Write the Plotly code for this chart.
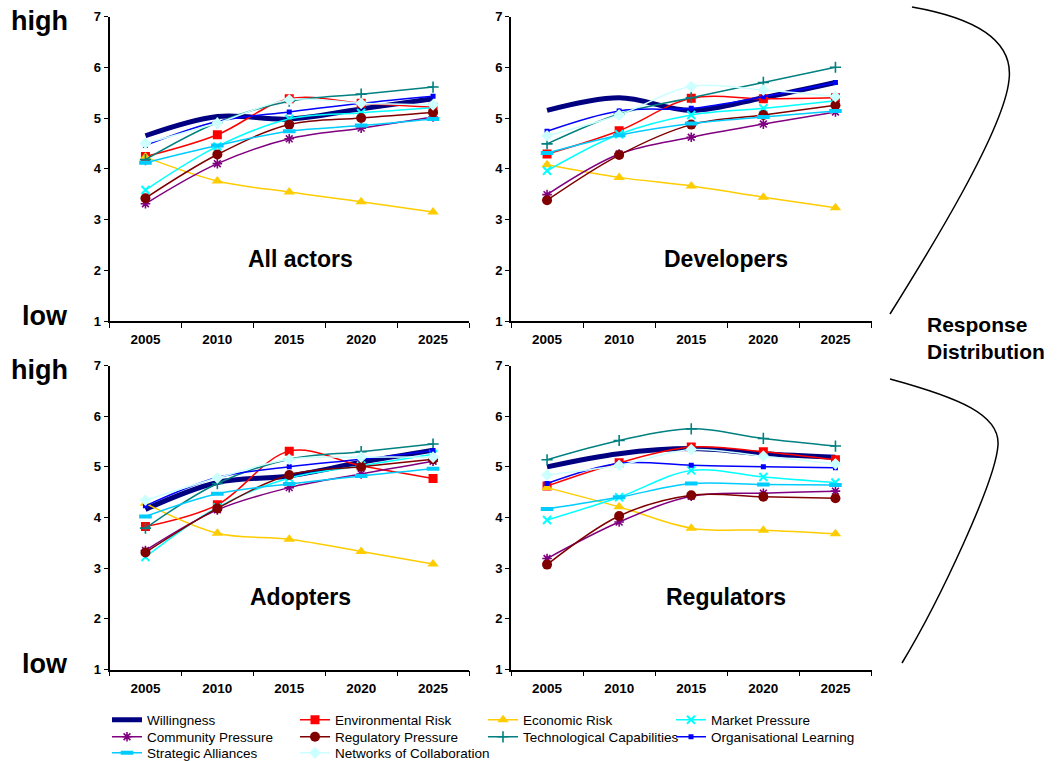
import plotly.graph_objects as go

W, H = 1060, 761
R_MARGIN = 130
PW = W - R_MARGIN       # plot-area width in px
FONT = "Liberation Sans, Arial, Helvetica, sans-serif"

YEARS = ["2005", "2010", "2015", "2020", "2025"]
PANELS = ["All actors", "Developers", "Adopters", "Regulators"]
SERIES = ["Willingness", "Environmental Risk", "Economic Risk", "Market Pressure",
          "Community Pressure", "Regulatory Pressure", "Technological Capabilities",
          "Organisational Learning", "Strategic Alliances", "Networks of Collaboration"]

# values per panel, series order as SERIES
all_actors = {
    "Willingness":                [4.65, 5.03, 4.98, 5.18, 5.38],
    "Environmental Risk":         [4.24, 4.67, 5.38, 5.29, 5.21],
    "Economic Risk":              [4.23, 3.76, 3.54, 3.35, 3.15],
    "Market Pressure":            [3.58, 4.44, 4.98, 5.10, 5.20],
    "Community Pressure":         [3.31, 4.10, 4.59, 4.80, 5.02],
    "Regulatory Pressure":        [3.42, 4.28, 4.87, 5.00, 5.11],
    "Technological Capabilities": [4.18, 4.91, 5.33, 5.47, 5.61],
    "Organisational Learning":    [4.46, 4.93, 5.12, 5.29, 5.43],
    "Strategic Alliances":        [4.12, 4.46, 4.74, 4.85, 4.98],
    "Networks of Collaboration":  [4.50, 4.90, 5.36, 5.29, 5.26],
}
developers = {
    "Willingness":                [5.15, 5.40, 5.15, 5.40, 5.70],
    "Environmental Risk":         [4.29, 4.75, 5.39, 5.38, 5.40],
    "Economic Risk":              [4.08, 3.83, 3.66, 3.44, 3.23],
    "Market Pressure":            [3.96, 4.68, 5.06, 5.19, 5.34],
    "Community Pressure":         [3.49, 4.29, 4.62, 4.88, 5.12],
    "Regulatory Pressure":        [3.38, 4.27, 4.87, 5.06, 5.25],
    "Technological Capabilities": [4.49, 5.08, 5.40, 5.70, 6.00],
    "Organisational Learning":    [4.74, 5.14, 5.19, 5.42, 5.70],
    "Strategic Alliances":        [4.31, 4.66, 4.89, 5.02, 5.14],
    "Networks of Collaboration":  [4.65, 5.06, 5.62, 5.55, 5.42],
}
adopters = {
    "Willingness":                [4.16, 4.69, 4.82, 5.09, 5.33],
    "Environmental Risk":         [3.82, 4.25, 5.31, 5.02, 4.77],
    "Economic Risk":              [4.28, 3.69, 3.57, 3.33, 3.08],
    "Market Pressure":            [3.22, 4.20, 4.78, 5.02, 5.25],
    "Community Pressure":         [3.35, 4.15, 4.59, 4.86, 5.11],
    "Regulatory Pressure":        [3.31, 4.18, 4.84, 5.00, 5.15],
    "Technological Capabilities": [3.79, 4.67, 5.15, 5.30, 5.45],
    "Organisational Learning":    [4.23, 4.79, 5.00, 5.15, 5.32],
    "Strategic Alliances":        [4.02, 4.47, 4.66, 4.82, 4.96],
    "Networks of Collaboration":  [4.34, 4.78, 5.15, 5.19, 5.19],
}
regulators = {
    "Willingness":                [5.00, 5.26, 5.36, 5.26, 5.19],
    "Environmental Risk":         [4.62, 5.08, 5.39, 5.30, 5.14],
    "Economic Risk":              [4.59, 4.21, 3.79, 3.75, 3.68],
    "Market Pressure":            [3.95, 4.40, 4.93, 4.80, 4.69],
    "Community Pressure":         [3.19, 3.91, 4.42, 4.48, 4.52],
    "Regulatory Pressure":        [3.07, 4.03, 4.44, 4.41, 4.38],
    "Technological Capabilities": [5.14, 5.52, 5.75, 5.56, 5.41],
    "Organisational Learning":    [4.67, 5.07, 5.03, 5.00, 4.98],
    "Strategic Alliances":        [4.17, 4.40, 4.67, 4.65, 4.64],
    "Networks of Collaboration":  [4.84, 5.03, 5.34, 5.21, 5.06],
}
PANEL_DATA = [all_actors, developers, adopters, regulators]

STYLE = {
    "Willingness":                dict(color="#000080", width=5, symbol=None),
    "Environmental Risk":         dict(color="#FF0000", width=1.5, symbol="square", size=9),
    "Economic Risk":              dict(color="#FFCC00", width=1.5, symbol="triangle-up", size=10),
    "Market Pressure":            dict(color="#00FFFF", width=1.5, symbol="x-thin", size=8, lw=2),
    "Community Pressure":         dict(color="#800080", width=1.5, symbol="asterisk", size=8, lw=1.6),
    "Regulatory Pressure":        dict(color="#800000", width=1.5, symbol="circle", size=10),
    "Technological Capabilities": dict(color="#008080", width=1.5, symbol="cross-thin", size=8, lw=1.6),
    "Organisational Learning":    dict(color="#0000FF", width=1.5, symbol="square", size=5),
    "Strategic Alliances":        dict(color="#00CCFF", width=1.5, symbol="line-ew", size=9, lw=4),
    "Networks of Collaboration":  dict(color="#CCFFFF", width=1.5, symbol="diamond", size=9),
}

# legend rows: four entries per row; the last entry gets its own legend so it is not clipped
LEGEND_OF = ["legend"] * 4 + ["legend2"] * 4 + ["legend3", "legend4"]

def px(x):
    return x / PW

def py(y):
    return 1 - y / H

fig = go.Figure()

for pi, data in enumerate(PANEL_DATA):
    ax = "" if pi == 0 else str(pi + 1)
    for si, name in enumerate(SERIES):
        st = STYLE[name]
        kw = dict(
            x=YEARS, y=data[name], name=name, legendgroup=name,
            legend=LEGEND_OF[si],
            showlegend=(pi == 0), xaxis="x" + ax, yaxis="y" + ax,
            line=dict(color=st["color"], width=st["width"], shape="spline", smoothing=1),
            hoverinfo="x+y+name",
        )
        if st["symbol"] is None:
            kw["mode"] = "lines"
        else:
            kw["mode"] = "lines+markers"
            if "lw" in st:
                kw["marker"] = dict(symbol=st["symbol"], size=st["size"], color=st["color"],
                                    line=dict(color=st["color"], width=st["lw"]))
            else:
                kw["marker"] = dict(symbol=st["symbol"], size=st["size"], color=st["color"],
                                    line=dict(width=0))
        fig.add_trace(go.Scatter(**kw))

x_doms = [[px(109.5), px(469)], [px(511), px(871.5)]]
y_doms = [[py(321), py(16.5)], [py(669.5), py(365.5)]]

layout_axes = {}
for pi in range(4):
    r, c = divmod(pi, 2)
    ax = "" if pi == 0 else str(pi + 1)
    layout_axes["xaxis" + ax] = dict(
        domain=x_doms[c], anchor="y" + ax, type="category", range=[-0.5, 4.5],
        tickson="boundaries", ticks="outside", ticklen=5, tickwidth=1.2, tickcolor="black",
        ticklabelstandoff=5,
        showline=True, linecolor="black", linewidth=1.6, showgrid=False, zeroline=False,
        tickfont=dict(family=FONT, size=13.5, color="black", weight="bold"),
        fixedrange=True,
    )
    layout_axes["yaxis" + ax] = dict(
        domain=y_doms[r], anchor="x" + ax, range=[1, 7], tickvals=[1, 2, 3, 4, 5, 6, 7],
        ticks="outside", ticklen=4, tickwidth=1.2, tickcolor="black",
        showline=True, linecolor="black", linewidth=1.6, showgrid=False, zeroline=False,
        tickfont=dict(family=FONT, size=13, color="black", weight="bold"),
        fixedrange=True,
    )

annotations = []
def txt(text, x, y, size, xanchor="center", align="center"):
    annotations.append(dict(text=text, x=px(x), y=py(y), xref="paper", yref="paper",
                            xanchor=xanchor, yanchor="middle", align=align, showarrow=False,
                            font=dict(family=FONT, size=size, color="black", weight="bold")))

txt("high", 39, 21, 27)
txt("low", 45, 316, 27)
txt("high", 39, 370, 27)
txt("low", 45, 664, 27)
txt(PANELS[0], 300, 259, 23)
txt(PANELS[1], 726, 259, 23)
txt(PANELS[2], 300, 597, 23)
txt(PANELS[3], 726, 597, 23)
txt("Response<br>Distribution", 925, 338, 21, xanchor="left", align="left")

def path(points_str):
    out = []
    for tok in points_str.split():
        if "," in tok:
            a, b = tok.split(",")
            out.append(f"{px(float(a)):.5f},{py(float(b)):.5f}")
        else:
            out.append(tok)
    return " ".join(out)

shapes = [
    dict(type="path", xref="paper", yref="paper",
         path=path("M 912,7 C 975,18 1014,40 1009,80 C 1004,130 930,250 890,314"),
         line=dict(color="black", width=1.5)),
    dict(type="path", xref="paper", yref="paper",
         path=path("M 890,379 C 960,398 1000,415 998,445 C 996,480 940,600 902,663"),
         line=dict(color="black", width=1.5)),
]

def legend_row(x_left, y_center, entrywidth=143):
    d = dict(orientation="h", x=px(x_left), y=py(y_center), xanchor="left", yanchor="middle",
             traceorder="normal",
             font=dict(family=FONT, size=13.5, color="black"),
             bgcolor="rgba(0,0,0,0)", borderwidth=0, itemclick=False, itemdoubleclick=False)
    if entrywidth:
        d.update(entrywidth=entrywidth, entrywidthmode="pixels")
    return d

fig.update_layout(
    width=W, height=H, margin=dict(l=0, r=R_MARGIN, t=0, b=0, autoexpand=False),
    paper_bgcolor="white", plot_bgcolor="white",
    showlegend=True,
    legend=legend_row(107, 720), legend2=legend_row(107, 737),
    legend3=legend_row(107, 753), legend4=legend_row(295, 753, entrywidth=None),
    annotations=annotations, shapes=shapes,
    **layout_axes,
)

fig.write_html("out.html", config={"displayModeBar": False},
               post_script="document.body.style.margin='0';")
